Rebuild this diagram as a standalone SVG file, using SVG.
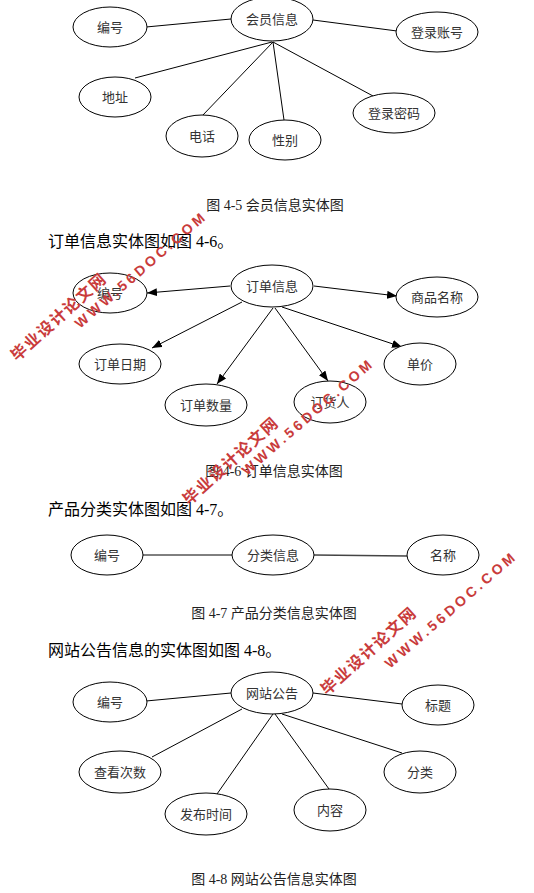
<svg xmlns="http://www.w3.org/2000/svg" width="534" height="893" viewBox="0 0 534 893">
<defs>
<style>
.n ellipse{fill:#fff;stroke:#000;stroke-width:1}
.n text{font-family:"Liberation Serif","Noto Sans CJK SC",serif;font-size:13px;fill:#333;text-anchor:middle}
.c line{stroke:#000;stroke-width:1}
.arr line{marker-end:url(#ah)}
.p{font-family:"Liberation Serif","Noto Sans CJK SC",serif;font-size:16px;fill:#000}
.cap{font-family:"Liberation Serif","Noto Sans CJK SC",serif;font-size:14px;fill:#222;text-anchor:middle}
.wm text{font-family:"Liberation Sans","Noto Sans CJK SC",sans-serif;font-weight:bold;fill:#c93b3b}
.wm .cn{font-size:16px;letter-spacing:1.5px}
.wm .en{font-size:14px;letter-spacing:3.4px}
</style>
<marker id="ah" viewBox="0 0 10 8" refX="10" refY="4" markerWidth="10" markerHeight="8" markerUnits="userSpaceOnUse" orient="auto">
<path d="M0,0 L10,4 L0,8 z" fill="#000"/>
</marker>
</defs>
<rect width="534" height="893" fill="#fff"/>

<!-- Figure 4-5 -->
<g id="fig45-edges" class="c">
<line x1="146" y1="27" x2="231" y2="19"/>
<line x1="313" y1="20" x2="397" y2="31"/>
<line x1="272" y1="42" x2="135" y2="78"/>
<line x1="273" y1="42" x2="202" y2="116"/>
<line x1="273" y1="42" x2="284" y2="120"/>
<line x1="273" y1="42" x2="373" y2="96"/>
</g>
<g id="m-center" class="n"><ellipse cx="272" cy="19" rx="41" ry="22"/><text x="272" y="24">会员信息</text></g>
<g id="m-id" class="n"><ellipse cx="110" cy="27" rx="37" ry="20"/><text x="110" y="32">编号</text></g>
<g id="m-acct" class="n"><ellipse cx="437" cy="32" rx="41" ry="20"/><text x="437" y="37">登录账号</text></g>
<g id="m-addr" class="n"><ellipse cx="115" cy="97" rx="36" ry="20"/><text x="115" y="102">地址</text></g>
<g id="m-tel" class="n"><ellipse cx="202" cy="136" rx="36" ry="21"/><text x="202" y="141">电话</text></g>
<g id="m-sex" class="n"><ellipse cx="285" cy="140" rx="36" ry="20"/><text x="285" y="145">性别</text></g>
<g id="m-pwd" class="n"><ellipse cx="394" cy="113" rx="41" ry="20"/><text x="394" y="118">登录密码</text></g>
<text class="cap" x="275" y="210">图 4-5 会员信息实体图</text>

<text class="p" x="48" y="247">订单信息实体图如图 4-6。</text>

<!-- Figure 4-6 -->
<g id="fig46-edges" class="c arr">
<line x1="230" y1="286" x2="147" y2="293"/>
<line x1="314" y1="286" x2="397" y2="296"/>
<line x1="242" y1="302" x2="152" y2="348"/>
<line x1="273" y1="308" x2="217" y2="384"/>
<line x1="275" y1="308" x2="328" y2="381"/>
<line x1="282" y1="307" x2="402" y2="347"/>
</g>
<g id="o-center" class="n"><ellipse cx="272" cy="286" rx="41" ry="21"/><text x="272" y="291">订单信息</text></g>
<g id="o-id" class="n"><ellipse cx="110" cy="293" rx="37" ry="20"/><text x="110" y="298">编号</text></g>
<g id="o-name" class="n"><ellipse cx="437" cy="297" rx="41" ry="20"/><text x="437" y="302">商品名称</text></g>
<g id="o-date" class="n"><ellipse cx="120" cy="364" rx="41" ry="20"/><text x="120" y="369">订单日期</text></g>
<g id="o-qty" class="n"><ellipse cx="206" cy="405" rx="41" ry="21"/><text x="206" y="410">订单数量</text></g>
<g id="o-buyer" class="n"><ellipse cx="330" cy="402" rx="36" ry="21"/><text x="330" y="407">订货人</text></g>
<g id="o-price" class="n"><ellipse cx="420" cy="364" rx="36" ry="21"/><text x="420" y="369">单价</text></g>
<text class="cap" x="274" y="476">图 4-6 订单信息实体图</text>

<text class="p" x="48" y="515">产品分类实体图如图 4-7。</text>

<!-- Figure 4-7 -->
<g id="fig47-edges" class="c">
<line x1="143" y1="555" x2="232" y2="555"/>
<line x1="314" y1="555" x2="407" y2="556" style="stroke:#444;stroke-width:1.3"/>
</g>
<g id="c-id" class="n"><ellipse cx="107" cy="555" rx="36" ry="20"/><text x="107" y="560">编号</text></g>
<g id="c-center" class="n"><ellipse cx="273" cy="555" rx="41" ry="20"/><text x="273" y="560">分类信息</text></g>
<g id="c-name" class="n"><ellipse cx="443" cy="555" rx="36" ry="20"/><text x="443" y="560">名称</text></g>
<text class="cap" x="274" y="618">图 4-7 产品分类信息实体图</text>

<text class="p" x="48" y="656">网站公告信息的实体图如图 4-8。</text>

<!-- Figure 4-8 -->
<g id="fig48-edges" class="c">
<line x1="146" y1="701" x2="231" y2="693"/>
<line x1="313" y1="693" x2="402" y2="704"/>
<line x1="242" y1="709" x2="152" y2="757"/>
<line x1="273" y1="714" x2="217" y2="794"/>
<line x1="275" y1="714" x2="329" y2="789"/>
<line x1="282" y1="714" x2="402" y2="753"/>
</g>
<g id="a-center" class="n"><ellipse cx="272" cy="693" rx="41" ry="21"/><text x="272" y="698">网站公告</text></g>
<g id="a-id" class="n"><ellipse cx="110" cy="702" rx="37" ry="20"/><text x="110" y="707">编号</text></g>
<g id="a-title" class="n"><ellipse cx="438" cy="705" rx="36" ry="20"/><text x="438" y="710">标题</text></g>
<g id="a-views" class="n"><ellipse cx="120" cy="772" rx="41" ry="21"/><text x="120" y="777">查看次数</text></g>
<g id="a-time" class="n"><ellipse cx="206" cy="814" rx="41" ry="21"/><text x="206" y="819">发布时间</text></g>
<g id="a-content" class="n"><ellipse cx="330" cy="810" rx="36" ry="21"/><text x="330" y="815">内容</text></g>
<g id="a-cat" class="n"><ellipse cx="420" cy="772" rx="36" ry="21"/><text x="420" y="777">分类</text></g>
<text class="cap" x="274" y="884">图 4-8 网站公告信息实体图</text>

<!-- watermarks -->
<g id="watermarks" class="wm">
<text class="cn" transform="translate(17,362) rotate(-42)">毕业设计论文网</text>
<text class="en" transform="translate(80,329) rotate(-41)">WWW.56DOC.COM</text>
<text class="cn" transform="translate(189,506) rotate(-42)">毕业设计论文网</text>
<text class="en" transform="translate(247,476) rotate(-41)">WWW.56DOC.COM</text>
<text class="cn" transform="translate(327,696) rotate(-42)">毕业设计论文网</text>
<text class="en" transform="translate(390,669) rotate(-41)">WWW.56DOC.COM</text>
</g>
</svg>
